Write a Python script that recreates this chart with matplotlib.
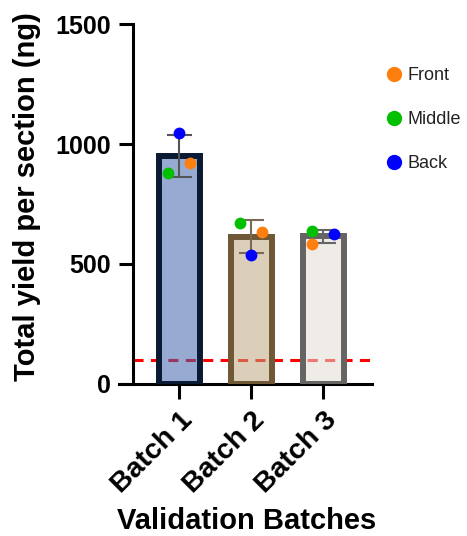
import numpy as np
import matplotlib.pyplot as plt
from matplotlib.lines import Line2D

plt.rcParams["font.family"] = ["Liberation Sans", "DejaVu Sans"]

# data
batches = ["Batch 1", "Batch 2", "Batch 3"]
front = [921, 633, 583]
middle = [879, 671, 637]
back = [1046, 538, 625]
threshold = 100

bar_fill = ["#4264ad", "#bea880", "#e2dbd2"]
bar_edge = ["#0b1a33", "#6e5836", "#666462"]
err_col = ["#555555", "#7a6a55", "#666666"]
pt_col = {"Front": "#ff7f0e", "Middle": "#00c000", "Back": "#0000ff"}
# horizontal jitter of the dots per batch
jitter = {
    "Front": [0.15, 0.15, -0.15],
    "Middle": [-0.15, -0.15, -0.15],
    "Back": [0.0, 0.0, 0.15],
}

vals = np.array([front, middle, back])
means = vals.mean(axis=0)
sds = vals.std(axis=0, ddof=1)
x = np.arange(len(batches))

fig = plt.figure(figsize=(4.67, 5.36), dpi=100)
ax = fig.add_axes([0.285, 0.284, 0.512, 0.671])

# threshold line behind the bars
ax.axhline(threshold, color="red", lw=2.2, ls=(0, (3.3, 2.4)), zorder=1)

for i in range(len(batches)):
    ax.bar(x[i], means[i], width=0.57, color=bar_fill[i], alpha=0.55,
           zorder=2)
    ax.bar(x[i], means[i], width=0.57, fill=False, edgecolor=bar_edge[i],
           lw=4.3, zorder=3)
    ax.errorbar(x[i], means[i], yerr=sds[i], color=err_col[i], lw=1.5,
                capsize=9, capthick=1.5, zorder=4)

names = ["Front", "Middle", "Back"]
for j, name in enumerate(names):
    for i in range(len(batches)):
        ax.plot(x[i] + jitter[name][i], vals[j, i], "o", color=pt_col[name],
                ms=8.5, mec="none", zorder=5)

ax.set_ylim(0, 1500)
ax.set_xlim(-0.64, 2.68)
ax.set_yticks([0, 500, 1000, 1500])
ax.set_xticks(x)
ax.set_xticklabels(batches, rotation=45, ha="right", rotation_mode="anchor")
for lab in ax.get_xticklabels():
    lab.set_fontsize(20.5)
    lab.set_fontweight("bold")
for lab in ax.get_yticklabels():
    lab.set_fontsize(18)
    lab.set_fontweight("bold")
ax.tick_params(axis="both", width=2.2, length=10, color="black")
ax.tick_params(axis="x", length=11, pad=6)
ax.tick_params(axis="y", pad=6)
ax.spines["top"].set_visible(False)
ax.spines["right"].set_visible(False)
ax.spines["left"].set_linewidth(2.2)
ax.spines["bottom"].set_linewidth(2.2)
ax.spines["bottom"].set_bounds(-0.64 - 0.2, 2.68)
ax.spines["bottom"].set_clip_on(False)

ax.set_ylabel("Total yield per section (ng)", fontsize=21, fontweight="bold")
ax.yaxis.set_label_coords(-0.385, 0.52)
ax.set_xlabel("Validation Batches", fontsize=21, fontweight="bold")
ax.xaxis.set_label_coords(0.475, -0.342)

handles = [Line2D([], [], marker="o", ls="none", color=pt_col[n], ms=11,
                  mec="none") for n in names]
fig.legend(handles, names, loc="upper left", bbox_to_anchor=(0.785, 0.905),
           frameon=False, fontsize=13, handletextpad=0.15, labelspacing=1.5,
           handlelength=1.2, labelcolor="#222222")

fig.savefig("out.png")
